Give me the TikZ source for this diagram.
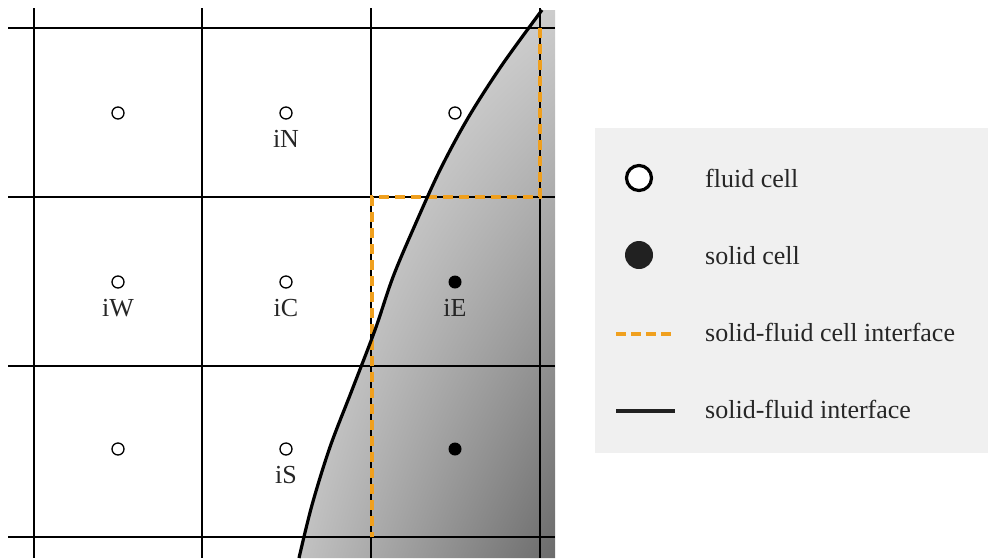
\documentclass[tikz,border=0pt]{standalone}
\usepackage{fontspec}
\setmainfont{Liberation Serif}
\usetikzlibrary{positioning, calc, shadings}
\definecolor{ifaceorange}{RGB}{240,160,30}
\definecolor{legendbg}{RGB}{240,240,240}

\begin{document}
\begin{tikzpicture}[x=1pt,y=-1pt,font=\fontsize{26}{30}\selectfont]
\tikzset{
  fluidpt/.style={circle,draw=black,fill=white,line width=1.3pt,minimum size=12pt,inner sep=0pt},
  solidpt/.style={circle,fill=black,draw=none,minimum size=13pt,inner sep=0pt},
  gridline/.style={black,line width=1.3pt},
  cellface/.style={ifaceorange,line width=3.8pt,dash pattern=on 10pt off 6pt},
  wall/.style={black,line width=3.2pt},
  lbl/.style={inner sep=0pt,text=black!85}
}
\useasboundingbox (0,0) rectangle (990,558);

% solid region (shaded)
\shade[upper left=black!8,upper right=black!20,lower left=black!24,lower right=black!58]
  plot[smooth,tension=0.55] coordinates {(542,10) (502,65) (468,118) (440,170) (415,225)
    (393,277) (375,330) (352,390) (330,447) (312,505) (299,558)}
  -- (555,558) -- (555,10) -- cycle;

% grid
\foreach \x in {34,202,371,540}{
  \draw[gridline] (\x,8) -- (\x,558);
}
\foreach \y in {28,197,366,537}{
  \draw[gridline] (8,\y) -- (555,\y);
}

% solid-fluid cell interface
\draw[cellface] (540,28) -- (540,197) -- (372,197) -- (372,537);

% solid-fluid interface
\draw[wall] plot[smooth,tension=0.55] coordinates {(542,10) (502,65) (468,118) (440,170) (415,225)
    (393,277) (375,330) (352,390) (330,447) (312,505) (299,558)};

% cell centres
\foreach \n/\x/\y in {iNW/118/113, iN/286/113, iNE/455/113, iW/118/282,
                      iC/286/282, iSW/118/449, iS/286/449}{
  \node[fluidpt] (\n) at (\x,\y) {};
}
\node[solidpt] (iE) at (455,282) {};
\node[solidpt] (iSE) at (455,449) {};

% labels
\foreach \n in {iN,iW,iC,iE,iS}{
  \node[lbl,below=10pt of \n] (\n-lbl) {\n};
}

% legend
\node[fill=legendbg,draw=none,minimum width=393pt,minimum height=325pt,
      anchor=north west,inner sep=0pt] (legend) at (595,128) {};
\node[fluidpt,minimum size=25pt,line width=3.2pt] (lgfluid) at (639,178) {};
\node[solidpt,minimum size=28pt,fill=black!87] (lgsolid) at (639,255) {};
\coordinate (lgfaceA) at (616,334);
\coordinate (lgfaceB) at (675,334);
\draw[cellface,line width=3.2pt,dash pattern=on 10pt off 5pt] (lgfaceA) -- (lgfaceB);
\coordinate (lgwallA) at (616,411);
\coordinate (lgwallB) at (675,411);
\draw[wall,line width=3.8pt,black!87] (lgwallA) -- (lgwallB);

\node[lbl,anchor=base west] (lgfluidtxt) at (705,187) {fluid cell};
\node[lbl,anchor=base west] (lgsolidtxt) at (705,264) {solid cell};
\node[lbl,anchor=base west] (lgfacetxt) at (705,341) {solid-fluid cell interface};
\node[lbl,anchor=base west] (lgwalltxt) at (705,418) {solid-fluid interface};
\end{tikzpicture}
\end{document}
